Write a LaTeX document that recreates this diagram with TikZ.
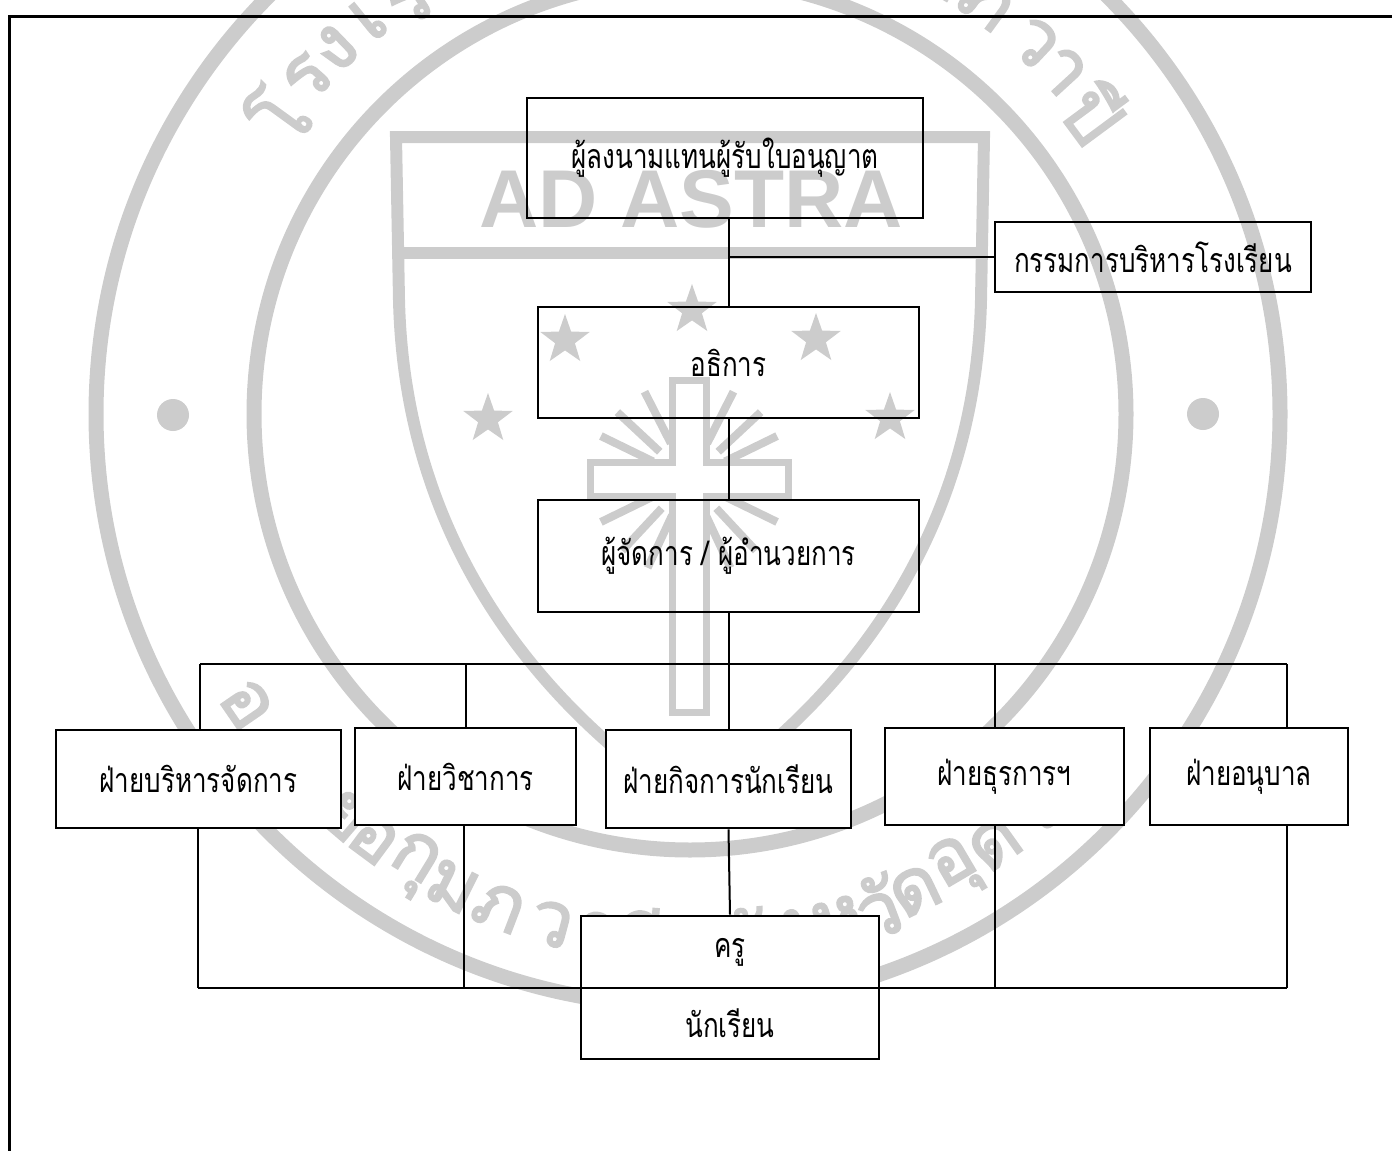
\documentclass[tikz,border=0pt]{standalone}
\usepackage{fontspec}
\usetikzlibrary{shapes.geometric}
\newfontfamily\thaifont[Script=Thai, FakeStretch=0.765]{Loma}
\newfontfamily\sealthai[Script=Thai, FakeBold=2.5]{Loma}
\newfontfamily\mottofont{Liberation Sans}
\definecolor{sealgray}{RGB}{204,204,204}
\newcommand\orgfont{\thaifont\fontsize{17}{20}\selectfont}
\newcommand\sealfont{\sealthai\fontsize{38}{38}\selectfont}
\begin{document}
\begin{tikzpicture}[x=0.5pt, y=-0.5pt, line width=1pt,
  org node/.style={draw, line width=1.3pt, inner sep=0pt, font=\orgfont},
  seal ring/.style={draw=sealgray, line width=7.5pt},
  seal line/.style={draw=sealgray, line width=6pt},
  seal star/.style={star, star points=5, star point ratio=2.5, fill=sealgray, inner sep=0pt, minimum size=26pt},
  seal letter/.style={text=sealgray, font=\sealfont, inner sep=0pt}]
\useasboundingbox (0,0) rectangle (1392,1151);
% school seal behind the chart
\begin{scope}
\clip (0,0) rectangle (1392,1151);
\draw[seal ring] (688,414) circle[radius=592];
\draw[seal ring] (690,414) circle[radius=436];
\fill[sealgray] (173,415) circle[radius=16] (1203,414) circle[radius=16];
\draw[seal line] (396,137) -- (984,137) -- (981,300) .. controls (975,560) and (820,720) .. (690,805) .. controls (560,720) and (405,560) .. (399,300) -- cycle;
\draw[seal line] (399,253) -- (981,253);
\node[text=sealgray, font=\mottofont\bfseries\fontsize{41}{41}\selectfont] (motto) at (691,199) {AD ASTRA};
\foreach \p [count=\i] in {(565,340),(692,310),(816,339),(488,419),(890,418)}
  \node[seal star] (star\i) at \p {};
\foreach \a in {26,43,63,117,137,154,206,227,245,295,313,334}
  \draw[sealgray, line width=4pt] ({689+40*cos(\a)},{479-40*sin(\a)}) -- ({689+98*cos(\a)},{479-98*sin(\a)});
\draw[sealgray, fill=white, line width=3.5pt] (672,380) -- (706,380) -- (706,462) -- (788,462) -- (788,496) -- (706,496) -- (706,712) -- (672,712) -- (672,496) -- (590,496) -- (590,462) -- (672,462) -- cycle;
\foreach \a/\g [count=\i] in {144/โ,138.5/ร,134/ง,129/เ,124/รี,119/ย,114/น,66/กุ,60/ม,54/ภ,47/ว,42.5/า,36.5/ปี}
  \node[seal letter, rotate=\a-90] (top\i) at ({688+508*cos(\a)},{414-508*sin(\a)}) {\g};
\foreach \a/\g [count=\i] in {214.5/อ.,229.5/ย,233.5/อ,238.5/กุ,243.5/ม,249/ภ,255/ว,260/า,265.5/ปี,276/จั,281/ง,286.5/ห,291/วั,295.5/ด,300.5/อุ,305.5/ด,311/ร,318/ธ}
  \node[seal letter, rotate=\a+90] (bottom\i) at ({688+528*cos(\a)},{414-528*sin(\a)}) {\g};
\end{scope}
% page frame
\draw[line width=1.5pt] (9,1151) -- (9,16) -- (1392,16);
% chart
\node[org node, minimum width=198pt, minimum height=60pt] (signer) at (725,158) {ผู้ลงนามแทนผู้รับใบอนุญาต};
\node[org node, minimum width=158pt, minimum height=35pt] (board) at (1153,257) {กรรมการบริหารโรงเรียน};
\node[org node, minimum width=190.5pt, minimum height=55.5pt] (rector) at (728.5,362.5) {อธิการ};
\node[org node, minimum width=190.5pt, minimum height=56pt] (director) at (728.5,556) {ผู้จัดการ / ผู้อำนวยการ};
\node[org node, fill=white, minimum width=142.5pt, minimum height=49pt] (admin) at (198.5,779) {ฝ่ายบริหารจัดการ};
\node[org node, fill=white, minimum width=110.5pt, minimum height=48.5pt] (academic) at (465.5,776.5) {ฝ่ายวิชาการ};
\node[org node, fill=white, minimum width=122.5pt, minimum height=49pt] (affairs) at (728.5,779) {ฝ่ายกิจการนักเรียน};
\node[org node, fill=white, minimum width=119.5pt, minimum height=48.5pt] (general) at (1004.5,776.5) {ฝ่ายธุรการฯ};
\node[org node, fill=white, minimum width=99pt, minimum height=48.5pt] (kinder) at (1249,776.5) {ฝ่ายอนุบาล};
\node[org node, fill=white, minimum width=149pt, minimum height=36pt] (teacher) at (730,952) {ครู};
\node[org node, fill=white, minimum width=149pt, minimum height=35.5pt] (pupil) at (730,1023.5) {นักเรียน};
\coordinate (hubL) at (200,664);
\coordinate (hubR) at (1287,664);
\coordinate (hubG) at (995,664);
\coordinate (footL) at (198,988);
\coordinate (footR) at (1287,988);
\coordinate (footA) at (464,988);
\path
    (signer.south -| rector.north) edge (rector.north)
    (board.west) edge (board.west -| rector.north)
    (rector.south) edge (director.north)
    (director.south) edge (director.south |- hubL)
    (hubL) edge (hubR)
    (hubL) edge (hubL |- admin.north)
    (academic.north |- hubL) edge (academic.north)
    (affairs.north |- hubL) edge (affairs.north)
    (hubG) edge (hubG |- general.north)
    (hubR) edge (hubR |- kinder.north)
    (affairs.south) edge (teacher.north)
    (footL) edge (footR)
    (admin.south -| footL) edge (footL)
    (academic.south -| footA) edge (footA)
    (general.south -| hubG) edge (hubG |- footL)
    (kinder.south -| hubR) edge (footR)
         ;
\end{tikzpicture}
\end{document}
